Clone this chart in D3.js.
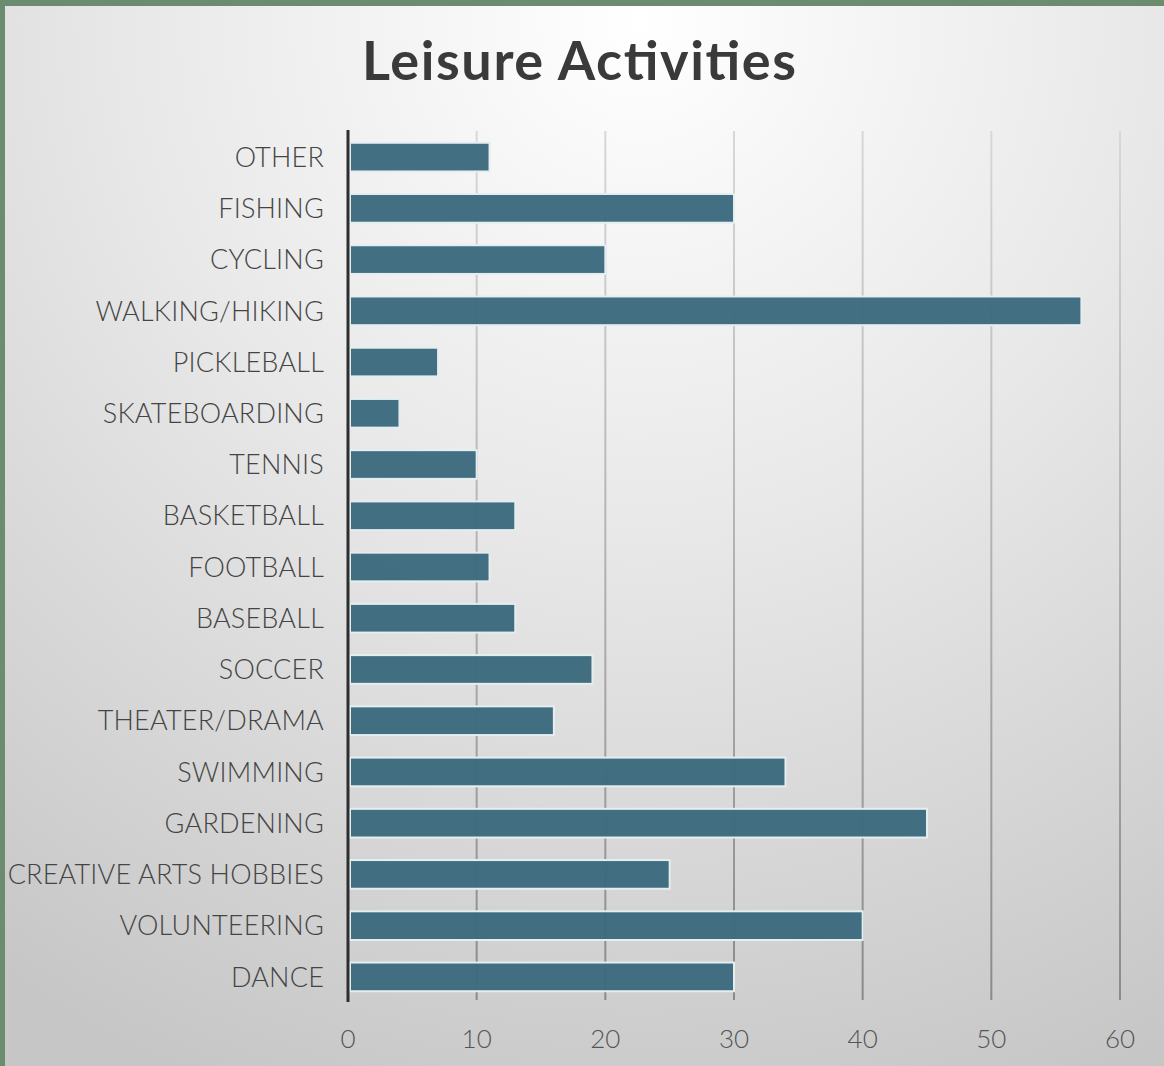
<!DOCTYPE html>
<html><head><meta charset="utf-8">
<script src="https://cdn.jsdelivr.net/npm/d3@7"></script>
<style>html,body{margin:0;padding:0;background:#6b8c6e;}svg{display:block;}</style>
</head><body>
<script>
const categories = ["OTHER","FISHING","CYCLING","WALKING/HIKING","PICKLEBALL","SKATEBOARDING","TENNIS","BASKETBALL","FOOTBALL","BASEBALL","SOCCER","THEATER/DRAMA","SWIMMING","GARDENING","CREATIVE ARTS HOBBIES","VOLUNTEERING","DANCE"];
const values = [11,30,20,57,7,4,10,13,11,13,19,16,34,45,25,40,30];
const xTicks = [0,10,20,30,40,50,60];
const title = "Leisure Activities";

const W = 1164, H = 1066;
const svg = d3.select("body").append("svg").attr("width", W).attr("height", H);
const defs = svg.append("defs");
const rg = defs.append("radialGradient").attr("id","bg").attr("gradientUnits","userSpaceOnUse")
  .attr("cx", 640).attr("cy", 20).attr("r", 1150);
rg.append("stop").attr("offset","0").attr("stop-color","#ffffff");
rg.append("stop").attr("offset","0.45").attr("stop-color","#e8e8e8");
rg.append("stop").attr("offset","1").attr("stop-color","#c6c6c6");
const gg = defs.append("linearGradient").attr("id","grid").attr("gradientUnits","userSpaceOnUse")
  .attr("x1",0).attr("y1",130).attr("x2",0).attr("y2",1000);
gg.append("stop").attr("offset","0").attr("stop-color","#d8d8d8");
gg.append("stop").attr("offset","1").attr("stop-color","#8a8a8a");

svg.append("rect").attr("x",5).attr("y",6).attr("width",W-5).attr("height",H-6).attr("fill","url(#bg)");

const x = d3.scaleLinear().domain([0,60]).range([348,1120]);
const y = d3.scaleBand().domain(categories).range([131.5,1002.5]).paddingInner(0.44).paddingOuter(0.22);

// gridlines
svg.append("g").selectAll("line").data(xTicks.filter(d=>d>0)).join("line")
  .attr("x1",d=>x(d)).attr("x2",d=>x(d)).attr("y1",131).attr("y2",1000)
  .attr("stroke","url(#grid)").attr("stroke-width",2);

// bars
svg.append("g").selectAll("rect").data(categories).join("rect")
  .attr("x", x(0)+2).attr("y", d=>y(d))
  .attr("width", (d,i)=>x(values[i])-x(0)-2).attr("height", y.bandwidth())
  .attr("fill","#3d6a7e").attr("fill-opacity",0.97)
  .attr("stroke","#e4eef1").attr("stroke-width",2);

// axis line
svg.append("line").attr("x1",x(0)).attr("x2",x(0)).attr("y1",130).attr("y2",1002)
  .attr("stroke","#2e2e2e").attr("stroke-width",3);

// y labels
svg.append("g").selectAll("text").data(categories).join("text")
  .attr("x", 324).attr("y", d=>y(d)+y.bandwidth()/2)
  .attr("dy","0.36em").attr("text-anchor","end")
  .attr("font-family","Lato, 'Open Sans', sans-serif").attr("font-size",27).attr("font-weight",300)
  .attr("letter-spacing","0.2px")
  .attr("fill","#444").text(d=>d);

// x tick labels
svg.append("g").selectAll("text").data(xTicks).join("text")
  .attr("x", d=>x(d)).attr("y",1048).attr("text-anchor","middle")
  .attr("font-family","Lato, 'Open Sans', sans-serif").attr("font-size",26).attr("font-weight",300)
  .attr("fill","#555").text(d=>d);

// title
svg.append("text").attr("x",579).attr("y",80).attr("text-anchor","middle")
  .attr("font-family","Lato, 'Open Sans', sans-serif").attr("font-weight","bold").attr("font-size",54)
  .attr("textLength",434).attr("lengthAdjust","spacing")
  .attr("fill","#3a3a3a").text(title);
</script>
</body></html>
